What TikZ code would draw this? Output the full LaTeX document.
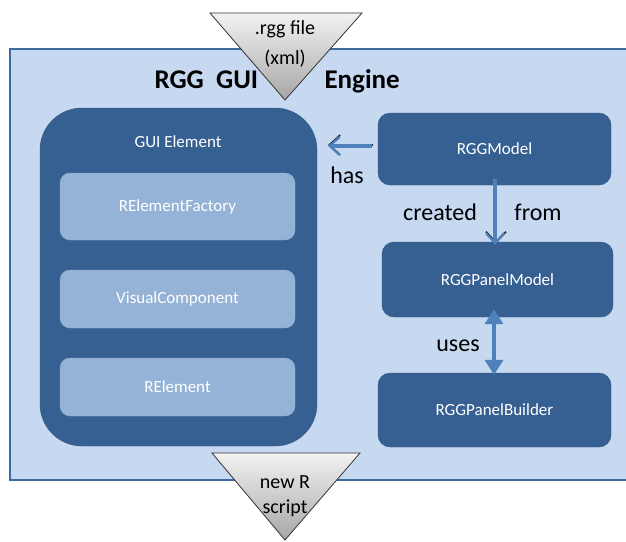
\documentclass[tikz,border=0pt]{standalone}
\usepackage{fontspec}
\setmainfont{Carlito}
\usetikzlibrary{arrows.meta,shapes.geometric}
\definecolor{panelfill}{HTML}{C6D9F1}
\definecolor{panelline}{HTML}{3F6A9E}
\definecolor{boxdark}{HTML}{376092}
\definecolor{boxlight}{HTML}{95B3D7}
\definecolor{arrowblue}{HTML}{4F81BD}
\tikzset{
  darkbox/.style={fill=boxdark, draw=boxdark!90!black, rounded corners=12pt, text=white, font=\fontsize{17}{20}\selectfont},
  lightbox/.style={fill=boxlight, draw=boxlight!95!black, rounded corners=10pt, text=white, font=\fontsize{17}{20}\selectfont},
  tri/.style={draw=black!80, line width=0.8pt, top color=white!95!black, bottom color=black!35},
  lbl/.style={font=\fontsize{24}{28}\selectfont, text=black},
  trilbl/.style={font=\fontsize{20}{24}\selectfont, align=center, text=black, inner sep=0pt}
}
\begin{document}
\begin{tikzpicture}[x=1pt,y=-1pt]
\useasboundingbox (0,0) rectangle (626,541);
\clip (0,0) rectangle (626,541);
% outer panel
\node[draw=panelline, line width=1.8pt, fill=panelfill, minimum width=640pt, minimum height=431pt, anchor=north west, inner sep=0pt] (panel) at (9,48) {};
% title
\node[font=\fontsize{27}{30}\selectfont\bfseries, anchor=base west] (title1) at (151,88) {RGG\ \ GUI};
\node[font=\fontsize{27}{30}\selectfont\bfseries, anchor=base west] (title2) at (321,88) {Engine};
% left big box
\path[fill=boxdark, draw=boxdark!90!black, rounded corners=42pt] (40,108) rectangle (317,446);
\node[text=white, font=\fontsize{17}{20}\selectfont] (gui) at (178,142) {GUI Element};
\node[lightbox, minimum width=235pt, minimum height=67pt] (ref) at (177.5,206.5) {RElementFactory};
\node[lightbox, minimum width=235pt, minimum height=58pt] (vc) at (177.5,299) {VisualComponent};
\node[lightbox, minimum width=235pt, minimum height=58pt] (rel) at (177.5,387) {RElement};
% right boxes
\node[darkbox, minimum width=233pt, minimum height=72pt] (model) at (494.5,149) {RGGModel};
\node[darkbox, minimum width=231pt, minimum height=75pt] (pmodel) at (497.5,279.5) {RGGPanelModel};
\node[darkbox, minimum width=233pt, minimum height=74pt] (pbuild) at (494.5,410) {RGGPanelBuilder};
% has arrow
\coordinate (hasend) at (328,146);
\draw[black!85, line width=1.5pt, -{Straight Barb[length=11pt,width=20pt,line width=1.6pt]}] ([xshift=-5pt,yshift=1pt]model.west |- 0,146) -- ([yshift=1pt]hasend);
\draw[arrowblue, line width=3.5pt, -{Straight Barb[length=10pt,width=18pt,line width=2.2pt]}] ([xshift=-6pt]model.west |- 0,146) -- (hasend);
\node[lbl] (has) at (347,175) {has};
% created from arrow
\draw[black!85, line width=1.5pt, -{Straight Barb[length=11pt,width=20pt,line width=1.6pt]}] ([xshift=1pt,yshift=6pt]model.south -| 495,0) -- ([xshift=1pt,yshift=-2pt]pmodel.north -| 495,0);
\draw[arrowblue, line width=3.5pt, -{Straight Barb[length=10pt,width=18pt,line width=2.2pt]}] ([yshift=6pt]model.south -| 495,0) -- ([yshift=-3pt]pmodel.north -| 495,0);
\node[lbl] (created) at (440,212) {created};
\node[lbl] (from) at (538,212) {from};
% uses arrow
\draw[arrowblue, line width=4.5pt, {Triangle[length=15pt,width=18pt]}-{Triangle[length=15pt,width=18pt]}] ([yshift=8pt]pmodel.south -| 494,0) -- ([yshift=-2pt]pbuild.north -| 494,0);
\node[lbl] (uses) at (458,346) {uses};
% top triangle
\path[tri] (210,13) -- (362,13) -- (285,100) -- cycle;
\node[trilbl] (in1) at (285,29) {.rgg file};
\node[trilbl] (in2) at (285,59) {(xml)};
% bottom triangle
\path[tri] (212,453) -- (360,453) -- (285,540) -- cycle;
\node[trilbl] (out1) at (285,482) {new R};
\node[trilbl] (out2) at (285,508) {script};
\end{tikzpicture}
\end{document}
